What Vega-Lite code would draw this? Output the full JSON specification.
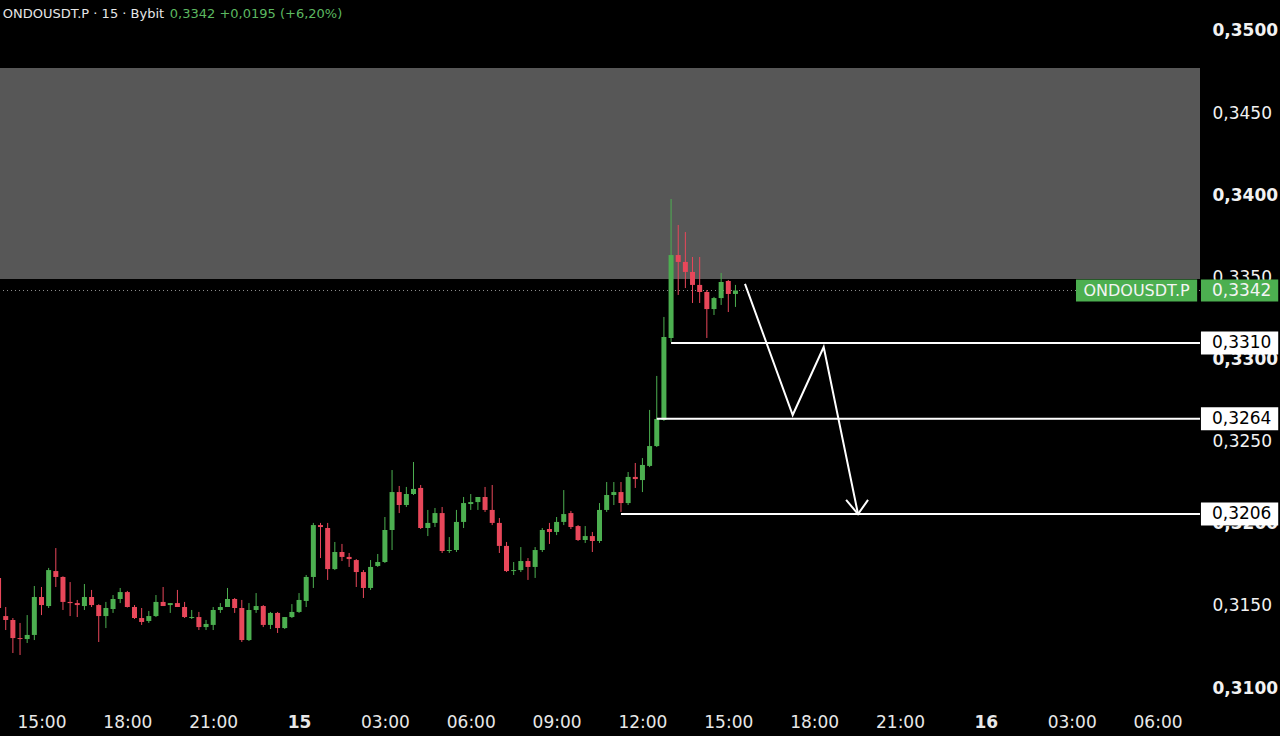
{
  "$schema": "https://vega.github.io/schema/vega-lite/v6.json",
  "width": 1200,
  "height": 705,
  "autosize": {"type": "none"},
  "padding": {"left": 0, "top": 0, "right": 80, "bottom": 31},
  "background": "#000000",
  "config": {"view": {"stroke": null}, "font": "DejaVu Sans"},
  "datasets": {
    "one": [{}],
    "candles": [
      {"t": "2024-09-14T13:30Z", "o": 0.31670, "h": 0.31688, "l": 0.31463, "c": 0.31487},
      {"t": "2024-09-14T13:45Z", "o": 0.31438, "h": 0.31493, "l": 0.31353, "c": 0.31414},
      {"t": "2024-09-14T14:00Z", "o": 0.31414, "h": 0.31426, "l": 0.31213, "c": 0.31304},
      {"t": "2024-09-14T14:15Z", "o": 0.31304, "h": 0.31396, "l": 0.31201, "c": 0.31298},
      {"t": "2024-09-14T14:30Z", "o": 0.31298, "h": 0.31444, "l": 0.31274, "c": 0.31323},
      {"t": "2024-09-14T14:45Z", "o": 0.31323, "h": 0.31621, "l": 0.31292, "c": 0.31554},
      {"t": "2024-09-14T15:00Z", "o": 0.31554, "h": 0.31615, "l": 0.31444, "c": 0.31505},
      {"t": "2024-09-14T15:15Z", "o": 0.31499, "h": 0.31731, "l": 0.31487, "c": 0.31718},
      {"t": "2024-09-14T15:30Z", "o": 0.31712, "h": 0.31852, "l": 0.31615, "c": 0.31676},
      {"t": "2024-09-14T15:45Z", "o": 0.31676, "h": 0.31680, "l": 0.31475, "c": 0.31524},
      {"t": "2024-09-14T16:00Z", "o": 0.31524, "h": 0.31645, "l": 0.31438, "c": 0.31517},
      {"t": "2024-09-14T16:15Z", "o": 0.31517, "h": 0.31536, "l": 0.31432, "c": 0.31505},
      {"t": "2024-09-14T16:30Z", "o": 0.31499, "h": 0.31633, "l": 0.31475, "c": 0.31554},
      {"t": "2024-09-14T16:45Z", "o": 0.31554, "h": 0.31597, "l": 0.31493, "c": 0.31505},
      {"t": "2024-09-14T17:00Z", "o": 0.31505, "h": 0.31510, "l": 0.31280, "c": 0.31438},
      {"t": "2024-09-14T17:15Z", "o": 0.31438, "h": 0.31524, "l": 0.31365, "c": 0.31487},
      {"t": "2024-09-14T17:30Z", "o": 0.31481, "h": 0.31566, "l": 0.31457, "c": 0.31542},
      {"t": "2024-09-14T17:45Z", "o": 0.31542, "h": 0.31609, "l": 0.31517, "c": 0.31584},
      {"t": "2024-09-14T18:00Z", "o": 0.31584, "h": 0.31591, "l": 0.31490, "c": 0.31493},
      {"t": "2024-09-14T18:15Z", "o": 0.31493, "h": 0.31505, "l": 0.31420, "c": 0.31426},
      {"t": "2024-09-14T18:30Z", "o": 0.31426, "h": 0.31487, "l": 0.31384, "c": 0.31402},
      {"t": "2024-09-14T18:45Z", "o": 0.31408, "h": 0.31469, "l": 0.31396, "c": 0.31438},
      {"t": "2024-09-14T19:00Z", "o": 0.31438, "h": 0.31566, "l": 0.31432, "c": 0.31524},
      {"t": "2024-09-14T19:15Z", "o": 0.31524, "h": 0.31615, "l": 0.31499, "c": 0.31499},
      {"t": "2024-09-14T19:30Z", "o": 0.31505, "h": 0.31517, "l": 0.31457, "c": 0.31517},
      {"t": "2024-09-14T19:45Z", "o": 0.31517, "h": 0.31597, "l": 0.31493, "c": 0.31493},
      {"t": "2024-09-14T20:00Z", "o": 0.31493, "h": 0.31524, "l": 0.31426, "c": 0.31432},
      {"t": "2024-09-14T20:15Z", "o": 0.31426, "h": 0.31475, "l": 0.31420, "c": 0.31432},
      {"t": "2024-09-14T20:30Z", "o": 0.31432, "h": 0.31463, "l": 0.31353, "c": 0.31371},
      {"t": "2024-09-14T20:45Z", "o": 0.31371, "h": 0.31414, "l": 0.31353, "c": 0.31390},
      {"t": "2024-09-14T21:00Z", "o": 0.31384, "h": 0.31493, "l": 0.31353, "c": 0.31475},
      {"t": "2024-09-14T21:15Z", "o": 0.31475, "h": 0.31517, "l": 0.31457, "c": 0.31493},
      {"t": "2024-09-14T21:30Z", "o": 0.31493, "h": 0.31609, "l": 0.31493, "c": 0.31542},
      {"t": "2024-09-14T21:45Z", "o": 0.31542, "h": 0.31548, "l": 0.31457, "c": 0.31487},
      {"t": "2024-09-14T22:00Z", "o": 0.31487, "h": 0.31536, "l": 0.31280, "c": 0.31292},
      {"t": "2024-09-14T22:15Z", "o": 0.31292, "h": 0.31517, "l": 0.31286, "c": 0.31475},
      {"t": "2024-09-14T22:30Z", "o": 0.31475, "h": 0.31578, "l": 0.31457, "c": 0.31499},
      {"t": "2024-09-14T22:45Z", "o": 0.31499, "h": 0.31505, "l": 0.31371, "c": 0.31384},
      {"t": "2024-09-14T23:00Z", "o": 0.31384, "h": 0.31463, "l": 0.31359, "c": 0.31457},
      {"t": "2024-09-14T23:15Z", "o": 0.31457, "h": 0.31463, "l": 0.31335, "c": 0.31365},
      {"t": "2024-09-14T23:30Z", "o": 0.31365, "h": 0.31432, "l": 0.31359, "c": 0.31432},
      {"t": "2024-09-14T23:45Z", "o": 0.31432, "h": 0.31511, "l": 0.31426, "c": 0.31463},
      {"t": "2024-09-15T00:00Z", "o": 0.31463, "h": 0.31578, "l": 0.31457, "c": 0.31536},
      {"t": "2024-09-15T00:15Z", "o": 0.31530, "h": 0.31688, "l": 0.31493, "c": 0.31676},
      {"t": "2024-09-15T00:30Z", "o": 0.31676, "h": 0.32005, "l": 0.31609, "c": 0.31992},
      {"t": "2024-09-15T00:45Z", "o": 0.31992, "h": 0.32005, "l": 0.31791, "c": 0.31980},
      {"t": "2024-09-15T01:00Z", "o": 0.31974, "h": 0.32005, "l": 0.31658, "c": 0.31724},
      {"t": "2024-09-15T01:15Z", "o": 0.31724, "h": 0.31889, "l": 0.31718, "c": 0.31828},
      {"t": "2024-09-15T01:30Z", "o": 0.31828, "h": 0.31877, "l": 0.31773, "c": 0.31798},
      {"t": "2024-09-15T01:45Z", "o": 0.31798, "h": 0.31822, "l": 0.31737, "c": 0.31785},
      {"t": "2024-09-15T02:00Z", "o": 0.31779, "h": 0.31785, "l": 0.31615, "c": 0.31706},
      {"t": "2024-09-15T02:15Z", "o": 0.31706, "h": 0.31718, "l": 0.31548, "c": 0.31609},
      {"t": "2024-09-15T02:30Z", "o": 0.31609, "h": 0.31779, "l": 0.31597, "c": 0.31737},
      {"t": "2024-09-15T02:45Z", "o": 0.31743, "h": 0.31816, "l": 0.31737, "c": 0.31767},
      {"t": "2024-09-15T03:00Z", "o": 0.31767, "h": 0.32041, "l": 0.31761, "c": 0.31962},
      {"t": "2024-09-15T03:15Z", "o": 0.31962, "h": 0.32327, "l": 0.31840, "c": 0.32193},
      {"t": "2024-09-15T03:30Z", "o": 0.32193, "h": 0.32230, "l": 0.32065, "c": 0.32114},
      {"t": "2024-09-15T03:45Z", "o": 0.32114, "h": 0.32224, "l": 0.32102, "c": 0.32181},
      {"t": "2024-09-15T04:00Z", "o": 0.32181, "h": 0.32376, "l": 0.32175, "c": 0.32212},
      {"t": "2024-09-15T04:15Z", "o": 0.32218, "h": 0.32236, "l": 0.31968, "c": 0.31974},
      {"t": "2024-09-15T04:30Z", "o": 0.31974, "h": 0.32084, "l": 0.31925, "c": 0.32005},
      {"t": "2024-09-15T04:45Z", "o": 0.32005, "h": 0.32096, "l": 0.31980, "c": 0.32065},
      {"t": "2024-09-15T05:00Z", "o": 0.32065, "h": 0.32102, "l": 0.31822, "c": 0.31834},
      {"t": "2024-09-15T05:15Z", "o": 0.31834, "h": 0.31919, "l": 0.31822, "c": 0.31840},
      {"t": "2024-09-15T05:30Z", "o": 0.31840, "h": 0.32084, "l": 0.31828, "c": 0.32011},
      {"t": "2024-09-15T05:45Z", "o": 0.32011, "h": 0.32163, "l": 0.31974, "c": 0.32126},
      {"t": "2024-09-15T06:00Z", "o": 0.32120, "h": 0.32181, "l": 0.32084, "c": 0.32132},
      {"t": "2024-09-15T06:15Z", "o": 0.32132, "h": 0.32163, "l": 0.32084, "c": 0.32163},
      {"t": "2024-09-15T06:30Z", "o": 0.32163, "h": 0.32224, "l": 0.32072, "c": 0.32084},
      {"t": "2024-09-15T06:45Z", "o": 0.32084, "h": 0.32236, "l": 0.31992, "c": 0.32005},
      {"t": "2024-09-15T07:00Z", "o": 0.32005, "h": 0.32035, "l": 0.31822, "c": 0.31865},
      {"t": "2024-09-15T07:15Z", "o": 0.31865, "h": 0.31889, "l": 0.31706, "c": 0.31712},
      {"t": "2024-09-15T07:30Z", "o": 0.31712, "h": 0.31767, "l": 0.31688, "c": 0.31718},
      {"t": "2024-09-15T07:45Z", "o": 0.31718, "h": 0.31858, "l": 0.31706, "c": 0.31773},
      {"t": "2024-09-15T08:00Z", "o": 0.31773, "h": 0.31791, "l": 0.31658, "c": 0.31737},
      {"t": "2024-09-15T08:15Z", "o": 0.31737, "h": 0.31858, "l": 0.31670, "c": 0.31840},
      {"t": "2024-09-15T08:30Z", "o": 0.31840, "h": 0.31974, "l": 0.31828, "c": 0.31962},
      {"t": "2024-09-15T08:45Z", "o": 0.31968, "h": 0.32005, "l": 0.31877, "c": 0.31950},
      {"t": "2024-09-15T09:00Z", "o": 0.31950, "h": 0.32041, "l": 0.31931, "c": 0.32011},
      {"t": "2024-09-15T09:15Z", "o": 0.32011, "h": 0.32205, "l": 0.31992, "c": 0.32059},
      {"t": "2024-09-15T09:30Z", "o": 0.32065, "h": 0.32078, "l": 0.31968, "c": 0.31980},
      {"t": "2024-09-15T09:45Z", "o": 0.31986, "h": 0.31992, "l": 0.31895, "c": 0.31901},
      {"t": "2024-09-15T10:00Z", "o": 0.31901, "h": 0.31986, "l": 0.31883, "c": 0.31925},
      {"t": "2024-09-15T10:15Z", "o": 0.31925, "h": 0.31950, "l": 0.31828, "c": 0.31895},
      {"t": "2024-09-15T10:30Z", "o": 0.31895, "h": 0.32126, "l": 0.31883, "c": 0.32084},
      {"t": "2024-09-15T10:45Z", "o": 0.32084, "h": 0.32254, "l": 0.32072, "c": 0.32175},
      {"t": "2024-09-15T11:00Z", "o": 0.32175, "h": 0.32254, "l": 0.32114, "c": 0.32193},
      {"t": "2024-09-15T11:15Z", "o": 0.32193, "h": 0.32254, "l": 0.32072, "c": 0.32126},
      {"t": "2024-09-15T11:30Z", "o": 0.32126, "h": 0.32315, "l": 0.32114, "c": 0.32285},
      {"t": "2024-09-15T11:45Z", "o": 0.32285, "h": 0.32370, "l": 0.32218, "c": 0.32272},
      {"t": "2024-09-15T12:00Z", "o": 0.32266, "h": 0.32400, "l": 0.32193, "c": 0.32358},
      {"t": "2024-09-15T12:15Z", "o": 0.32352, "h": 0.32693, "l": 0.32345, "c": 0.32473},
      {"t": "2024-09-15T12:30Z", "o": 0.32473, "h": 0.32900, "l": 0.32467, "c": 0.32638},
      {"t": "2024-09-15T12:45Z", "o": 0.32632, "h": 0.33259, "l": 0.32626, "c": 0.33137},
      {"t": "2024-09-15T13:00Z", "o": 0.33131, "h": 0.33977, "l": 0.33107, "c": 0.33636},
      {"t": "2024-09-15T13:15Z", "o": 0.33636, "h": 0.33819, "l": 0.33393, "c": 0.33594},
      {"t": "2024-09-15T13:30Z", "o": 0.33594, "h": 0.33776, "l": 0.33435, "c": 0.33533},
      {"t": "2024-09-15T13:45Z", "o": 0.33533, "h": 0.33624, "l": 0.33344, "c": 0.33454},
      {"t": "2024-09-15T14:00Z", "o": 0.33454, "h": 0.33624, "l": 0.33344, "c": 0.33411},
      {"t": "2024-09-15T14:15Z", "o": 0.33411, "h": 0.33423, "l": 0.33131, "c": 0.33307},
      {"t": "2024-09-15T14:30Z", "o": 0.33307, "h": 0.33381, "l": 0.33271, "c": 0.33374},
      {"t": "2024-09-15T14:45Z", "o": 0.33374, "h": 0.33527, "l": 0.33332, "c": 0.33472},
      {"t": "2024-09-15T15:00Z", "o": 0.33478, "h": 0.33484, "l": 0.33289, "c": 0.33399},
      {"t": "2024-09-15T15:15Z", "o": 0.33399, "h": 0.33454, "l": 0.33320, "c": 0.33420}
    ],
    "levels": [
      {"p": 0.3310, "start": "2024-09-15T13:00Z", "label": "0,3310"},
      {"p": 0.3264, "start": "2024-09-15T12:30Z", "label": "0,3264"},
      {"p": 0.3206, "start": "2024-09-15T11:15Z", "label": "0,3206"}
    ],
    "arrow": [
      {"seg": "path", "i": 1, "t": "2024-09-15T15:35Z", "p": 0.3346},
      {"seg": "path", "i": 2, "t": "2024-09-15T17:15Z", "p": 0.32662},
      {"seg": "path", "i": 3, "t": "2024-09-15T18:20Z", "p": 0.33076},
      {"seg": "path", "i": 4, "t": "2024-09-15T19:32Z", "p": 0.32059},
      {"seg": "head", "i": 1, "t": "2024-09-15T19:07Z", "p": 0.32145},
      {"seg": "head", "i": 2, "t": "2024-09-15T19:32Z", "p": 0.32059},
      {"seg": "head", "i": 3, "t": "2024-09-15T19:53Z", "p": 0.32145}
    ]
  },
  "layer": [
    {
      "data": {"name": "one"},
      "mark": {"type": "rect", "color": "#575757"},
      "encoding": {
        "y": {"datum": 0.34775, "type": "quantitative", "title": null},
        "y2": {"datum": 0.3349}
      }
    },
    {
      "data": {"name": "one"},
      "mark": {"type": "rule", "color": "#8c8c8c", "strokeDash": [1, 3], "strokeWidth": 1},
      "encoding": {"y": {"datum": 0.3342, "type": "quantitative", "title": null}}
    },
    {
      "data": {"name": "candles"},
      "mark": {"type": "rule", "strokeWidth": 1},
      "encoding": {
        "x": {
          "field": "t", "type": "temporal", "title": null,
          "scale": {"type": "utc", "domain": [1726320780000, 1726471740000]},
          "axis": {
            "orient": "bottom",
            "values": [1726326000000, 1726336800000, 1726347600000, 1726358400000, 1726369200000, 1726380000000, 1726390800000, 1726401600000, 1726412400000, 1726423200000, 1726434000000, 1726444800000, 1726455600000, 1726466400000],
            "labelExpr": "utchours(datum.value) == 0 ? utcFormat(datum.value, '%d') : utcFormat(datum.value, '%H:%M')",
            "labelFontWeight": {"condition": {"test": "utchours(datum.value) == 0", "value": "bold"}, "value": "normal"},
            "labelColor": "#e8e8e8",
            "labelFontSize": 17,
            "ticks": false,
            "domain": false,
            "grid": false,
            "labelPadding": 9,
            "labelOverlap": false,
            "labelFlush": false
          }
        },
        "y": {
          "field": "l", "type": "quantitative", "title": null,
          "scale": {"domain": [0.308965, 0.351887], "nice": false, "zero": false},
          "axis": {
            "orient": "right",
            "values": [0.31, 0.315, 0.32, 0.325, 0.33, 0.335, 0.34, 0.345, 0.35],
            "labelExpr": "replace(format(datum.value, '.4f'), '.', ',')",
            "labelFontWeight": {"condition": {"test": "abs(datum.value * 100 - round(datum.value * 100)) < 0.01", "value": "bold"}, "value": "normal"},
            "labelColor": "#f2f2f2",
            "labelFontSize": 17,
            "ticks": false,
            "domain": false,
            "grid": false,
            "labelPadding": 12,
            "labelOverlap": false,
            "labelFlush": false
          }
        },
        "y2": {"field": "h"},
        "color": {"condition": {"test": "datum.c >= datum.o", "value": "#4caf50"}, "value": "#e8475a"}
      }
    },
    {
      "data": {"name": "candles"},
      "mark": {"type": "rule", "strokeWidth": 5},
      "encoding": {
        "x": {"field": "t", "type": "temporal", "title": null},
        "y": {"field": "o", "type": "quantitative", "title": null},
        "y2": {"field": "c"},
        "color": {"condition": {"test": "datum.c >= datum.o", "value": "#4caf50"}, "value": "#e8475a"}
      }
    },
    {
      "data": {"name": "levels"},
      "mark": {"type": "rule", "color": "#ffffff", "strokeWidth": 2},
      "encoding": {
        "x": {"field": "start", "type": "temporal", "title": null},
        "x2": {"datum": 1726471740000},
        "y": {"field": "p", "type": "quantitative", "title": null}
      }
    },
    {
      "data": {"name": "arrow"},
      "mark": {"type": "line", "color": "#ffffff", "strokeWidth": 2, "strokeJoin": "miter"},
      "encoding": {
        "x": {"field": "t", "type": "temporal", "title": null},
        "y": {"field": "p", "type": "quantitative", "title": null},
        "detail": {"field": "seg", "type": "nominal"},
        "order": {"field": "i", "type": "quantitative"}
      }
    },
    {
      "data": {"name": "levels"},
      "mark": {"type": "rule", "color": "#ffffff", "strokeWidth": 23},
      "encoding": {
        "x": {"datum": 1726471860000, "type": "temporal", "title": null},
        "x2": {"datum": 1726481580000},
        "y": {"field": "p", "type": "quantitative", "title": null}
      }
    },
    {
      "data": {"name": "levels"},
      "mark": {"type": "text", "color": "#000000", "fontSize": 17, "font": "DejaVu Sans", "align": "left", "baseline": "middle"},
      "encoding": {
        "x": {"datum": 1726473240000, "type": "temporal", "title": null},
        "y": {"field": "p", "type": "quantitative", "title": null},
        "text": {"field": "label", "type": "nominal"}
      }
    },
    {
      "data": {"name": "one"},
      "mark": {"type": "rule", "color": "#4caf50", "strokeWidth": 22},
      "encoding": {
        "x": {"datum": 1726471860000, "type": "temporal", "title": null},
        "x2": {"datum": 1726481580000},
        "y": {"datum": 0.3342, "type": "quantitative", "title": null}
      }
    },
    {
      "data": {"name": "one"},
      "mark": {"type": "rule", "color": "#4caf50", "strokeWidth": 22},
      "encoding": {
        "x": {"datum": 1726456140000, "type": "temporal", "title": null},
        "x2": {"datum": 1726471380000},
        "y": {"datum": 0.3342, "type": "quantitative", "title": null}
      }
    },
    {
      "data": {"name": "one"},
      "mark": {"type": "text", "color": "#f4f4f4", "fontSize": 17, "font": "DejaVu Sans", "align": "left", "baseline": "middle"},
      "encoding": {
        "x": {"datum": 1726473240000, "type": "temporal", "title": null},
        "y": {"datum": 0.3342, "type": "quantitative", "title": null},
        "text": {"value": "0,3342"}
      }
    },
    {
      "data": {"name": "one"},
      "mark": {"type": "text", "color": "#f4f4f4", "fontSize": 16, "font": "DejaVu Sans", "align": "center", "baseline": "middle"},
      "encoding": {
        "x": {"datum": 1726463760000, "type": "temporal", "title": null},
        "y": {"datum": 0.3342, "type": "quantitative", "title": null},
        "text": {"value": "ONDOUSDT.P"}
      }
    },
    {
      "data": {"name": "one"},
      "mark": {"type": "text", "color": "#e6e6e6", "fontSize": 13, "font": "DejaVu Sans", "align": "left", "baseline": "middle"},
      "encoding": {
        "x": {"datum": 1726321140000, "type": "temporal", "title": null},
        "y": {"datum": 0.35104, "type": "quantitative", "title": null},
        "text": {"value": "ONDOUSDT.P · 15 · Bybit"}
      }
    },
    {
      "data": {"name": "one"},
      "mark": {"type": "text", "color": "#5cb860", "fontSize": 13, "font": "DejaVu Sans", "align": "left", "baseline": "middle"},
      "encoding": {
        "x": {"datum": 1726342140000, "type": "temporal", "title": null},
        "y": {"datum": 0.35104, "type": "quantitative", "title": null},
        "text": {"value": "0,3342  +0,0195 (+6,20%)"}
      }
    }
  ]
}
